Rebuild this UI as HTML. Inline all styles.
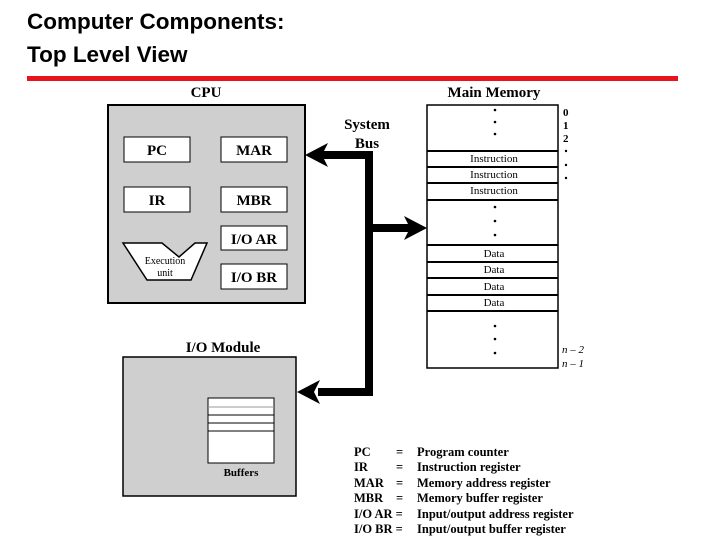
<!DOCTYPE html>
<html><head><meta charset="utf-8"><style>
body{margin:0;background:#fff;width:720px;height:540px;overflow:hidden;position:relative}
</style></head><body>
<div style="position:absolute;left:27px;top:76px;width:651px;height:5px;background:#e8141b"></div>
<svg width="720" height="540" style="position:absolute;left:0;top:0" font-family="Liberation Serif,serif" font-weight="bold">
<g font-family="Liberation Sans,sans-serif" font-size="22.5" font-weight="bold">
<text x="27" y="29">Computer Components:</text>
<text x="27" y="62">Top Level View</text>
</g>
<!-- CPU -->
<text x="206" y="97" font-size="15" text-anchor="middle">CPU</text>
<rect x="108" y="105" width="197" height="198" fill="#cfcfcf" stroke="#000" stroke-width="2"/>
<g fill="#fff" stroke="#000" stroke-width="1">
<rect x="124" y="137" width="66" height="25"/><rect x="221" y="137" width="66" height="25"/>
<rect x="124" y="187" width="66" height="25"/><rect x="221" y="187" width="66" height="25"/>
<rect x="221" y="226" width="66" height="24"/><rect x="221" y="264" width="66" height="25"/>
<polygon points="123,243 162,243 179,257 195,243 207,243 191,280 147,280" stroke-width="1.5"/>
</g>
<g font-size="15" text-anchor="middle">
<text x="157" y="155">PC</text><text x="254" y="155">MAR</text>
<text x="157" y="205">IR</text><text x="254" y="205">MBR</text>
<text x="254" y="244">I/O AR</text><text x="254" y="282">I/O BR</text>
</g>
<g font-size="10" font-weight="normal" text-anchor="middle"><text x="165" y="264">Execution</text><text x="165" y="276">unit</text></g>
<!-- bus -->
<text x="367" y="129" font-size="15" text-anchor="middle">System</text>
<text x="367" y="148" font-size="15" text-anchor="middle">Bus</text>
<path d="M318,155 H369 V392 H318 M369,228 H410" fill="none" stroke="#000" stroke-width="8"/>
<polygon points="305,155 328,143 322,155 328,167" fill="#000"/>
<polygon points="297,392 320,380 314,392 320,404" fill="#000"/>
<polygon points="427,228 404,216 410,228 404,240" fill="#000"/>
<!-- memory -->
<text x="494" y="97" font-size="15" text-anchor="middle">Main Memory</text>
<rect x="427" y="105" width="131" height="263" fill="#fff" stroke="#000" stroke-width="1.5"/>
<g stroke="#000" stroke-width="2">
<line x1="427" y1="151" x2="558" y2="151"/><line x1="427" y1="167" x2="558" y2="167"/>
<line x1="427" y1="183" x2="558" y2="183"/><line x1="427" y1="200" x2="558" y2="200"/>
<line x1="427" y1="245" x2="558" y2="245"/><line x1="427" y1="262" x2="558" y2="262"/>
<line x1="427" y1="278" x2="558" y2="278"/><line x1="427" y1="295" x2="558" y2="295"/>
<line x1="427" y1="311" x2="558" y2="311"/>
</g>
<g font-size="11" font-weight="normal" text-anchor="middle">
<text x="494" y="162">Instruction</text><text x="494" y="178">Instruction</text><text x="494" y="194">Instruction</text>
<text x="494" y="257">Data</text><text x="494" y="273">Data</text><text x="494" y="290">Data</text><text x="494" y="306">Data</text>
</g>
<g fill="#000">
<circle cx="495" cy="110" r="1.3"/><circle cx="495" cy="122" r="1.3"/><circle cx="495" cy="134" r="1.3"/>
<circle cx="495" cy="207" r="1.3"/><circle cx="495" cy="221" r="1.3"/><circle cx="495" cy="235" r="1.3"/>
<circle cx="495" cy="326" r="1.3"/><circle cx="495" cy="339" r="1.3"/><circle cx="495" cy="353" r="1.3"/>
<circle cx="566" cy="151" r="1.2"/><circle cx="566" cy="165" r="1.2"/><circle cx="566" cy="178" r="1.2"/>
<circle cx="238" cy="436" r="1.2"/><circle cx="238" cy="448" r="1.2"/><circle cx="238" cy="459" r="1.2"/>
</g>
<g font-size="11"><text x="563" y="116">0</text><text x="563" y="129">1</text><text x="563" y="142">2</text></g>
<g font-size="11" font-weight="normal" font-style="italic"><text x="562" y="353">n – 2</text><text x="562" y="367">n – 1</text></g>
<!-- IO -->
<text x="223" y="352" font-size="15" text-anchor="middle">I/O Module</text>
<rect x="123" y="357" width="173" height="139" fill="#cfcfcf" stroke="#000" stroke-width="1.5"/>
<rect x="208" y="398" width="66" height="65" fill="#fff" stroke="#000" stroke-width="1"/>
<g stroke="#000" stroke-width="1"><line x1="208" y1="407" x2="274" y2="407" stroke="#999"/><line x1="208" y1="415" x2="274" y2="415"/><line x1="208" y1="423" x2="274" y2="423"/><line x1="208" y1="431" x2="274" y2="431"/></g>
<text x="241" y="476" font-size="11" text-anchor="middle">Buffers</text>
<!-- legend -->
<g font-size="12.5">
<text x="354" y="456">PC</text><text x="396" y="456">=</text><text x="417" y="456">Program counter</text>
<text x="354" y="471">IR</text><text x="396" y="471">=</text><text x="417" y="471">Instruction register</text>
<text x="354" y="487">MAR</text><text x="396" y="487">=</text><text x="417" y="487">Memory address register</text>
<text x="354" y="502">MBR</text><text x="396" y="502">=</text><text x="417" y="502">Memory buffer register</text>
<text x="354" y="518">I/O AR =</text><text x="417" y="518">Input/output address register</text>
<text x="354" y="533">I/O BR =</text><text x="417" y="533">Input/output buffer register</text>
</g>
</svg>
</body></html>
